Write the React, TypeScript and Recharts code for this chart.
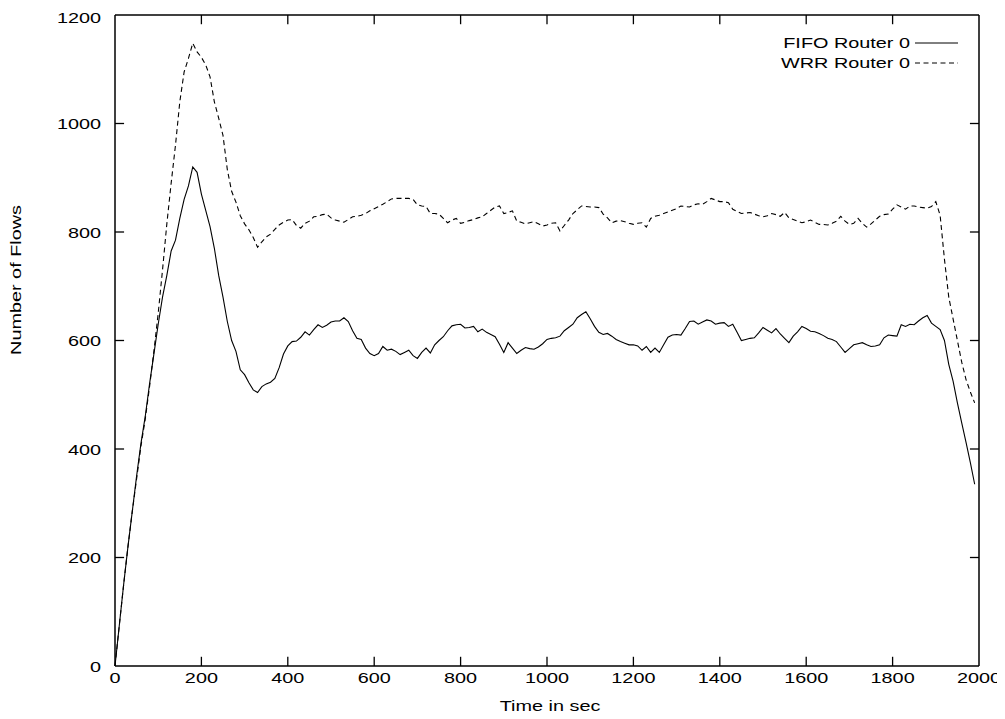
import React from 'react';
import { LineChart, Line, XAxis, YAxis, Legend, ReferenceLine } from 'recharts';

// time axis, one sample every 10 s
const TIMES = Array.from({ length: 200 }, (_, i) => i * 10);

const FIFO = [
  0, 75, 150, 220, 285, 350, 410, 460, 520, 575,
  630, 680, 720, 765, 785, 825, 860, 885, 920, 910,
  870, 840, 810, 770, 720, 680, 635, 600, 580, 546,
  537, 522, 509, 504, 515, 520, 523, 530, 550, 575,
  590, 598, 599, 606, 616, 610, 620, 629, 624, 628,
  634, 636, 636, 642, 635, 618, 604, 602, 586, 576,
  572, 576, 589, 582, 584, 580, 574, 578, 582, 572,
  567, 578, 586, 577, 592, 600, 607, 618, 627, 629,
  630, 623, 624, 626, 616, 621, 615, 611, 607, 593,
  578, 596, 586, 576, 582, 587, 585, 584, 588, 594,
  602, 604, 605, 608, 618, 624, 630, 642, 648, 653,
  640, 626, 615, 611, 613, 608, 602, 598, 595, 592,
  592, 590, 582, 589, 578, 586, 578, 592, 606, 610,
  611, 610, 622, 635, 636, 630, 634, 638, 636, 630,
  632, 633, 626, 630, 615, 600, 602, 604, 605, 614,
  624, 619, 614, 622, 612, 604, 596, 608, 616, 626,
  622, 617, 616, 613, 609, 604, 602, 598, 588, 578,
  585, 592, 594, 596, 592, 589, 590, 592, 605, 610,
  609, 608, 629, 626, 630, 629, 636, 642, 646, 632,
  626, 620, 600, 556, 525, 485, 448, 412, 375, 335,
];

const WRR = [
  0, 75, 150, 220, 285, 345, 405, 455, 515, 580,
  650, 730, 815, 890, 960, 1040, 1095, 1120, 1148, 1132,
  1122, 1108, 1086, 1040, 1010, 978, 915, 875, 855, 830,
  815, 804, 790, 772, 782, 791, 796, 805, 813, 818,
  822, 823, 812, 807, 816, 820, 828, 829, 832, 833,
  826, 822, 820, 818, 823, 828, 829, 831, 834, 839,
  843, 847, 851, 856, 861, 862, 862, 862, 862, 860,
  850, 848, 847, 834, 834, 833, 825, 817, 822, 825,
  816, 818, 821, 823, 826, 828, 834, 840, 846, 848,
  834, 836, 839, 820, 818, 815, 817, 819, 815, 811,
  813, 816, 817, 802, 812, 822, 834, 841, 848, 847,
  846, 846, 845, 833, 826, 817, 820, 821, 819, 816,
  814, 816, 817, 809, 825, 829, 831, 834, 837, 840,
  843, 848, 847, 846, 850, 852, 851, 856, 862, 859,
  856, 856, 854, 842, 838, 834, 835, 836, 833, 830,
  828, 830, 834, 832, 829, 836, 826, 823, 820, 817,
  819, 822, 818, 814, 814, 813, 816, 820, 829, 820,
  814, 816, 825, 816, 809, 815, 822, 829, 832, 833,
  842, 850, 846, 842, 848, 848, 846, 845, 844, 847,
  856, 831, 750, 680, 640, 600, 560, 528, 505, 485,
];

const X_TICKS = [0, 200, 400, 600, 800, 1000, 1200, 1400, 1600, 1800, 2000];
const Y_TICKS = [0, 200, 400, 600, 800, 1000, 1200];
const X_MAX = 2000;
const Y_MAX = 1200;
// inward tick length, in data units (about 9 px each way)
const XTICK_LEN = 17;
const YTICK_LEN = 21;

const data = TIMES.map((t, i) => ({ t, fifo: FIFO[i], wrr: WRR[i] }));

const FONT = '"Liberation Sans", Arial, sans-serif';
const FS = 15.5;
const STRETCH = 1.28;
const TICK = 9;

const StretchText = ({ x, y, anchor, children, rotate = 0 }: any) => (
  <text
    transform={`translate(${x},${y}) rotate(${rotate}) scale(${STRETCH},1)`}
    textAnchor={anchor}
    fontFamily={FONT}
    fontSize={FS}
    fill="#000"
  >
    {children}
  </text>
);

const XTick = ({ x, y, payload }: any) => (
  <StretchText x={x} y={y + TICK + 17} anchor="middle">{payload.value}</StretchText>
);

const YTick = ({ x, y, payload }: any) => (
  <StretchText x={x - TICK - 14} y={y + 5.5} anchor="end">{payload.value}</StretchText>
);

const renderLegend = () => (
  <svg width={320} height={70}>
    <StretchText x={252} y={40} anchor="end">FIFO Router 0</StretchText>
    <line x1={257} x2={300} y1={35} y2={35} stroke="#000" strokeWidth={1} />
    <StretchText x={252} y={59.5} anchor="end">WRR Router 0</StretchText>
    <line x1={257} x2={300} y1={55} y2={55} stroke="#000" strokeWidth={1} strokeDasharray="5 3.5" />
  </svg>
);

const tickSegments = [
  ...X_TICKS.filter((t) => t > 0 && t < X_MAX).flatMap((t) => [
    [{ x: t, y: 0 }, { x: t, y: XTICK_LEN }],
    [{ x: t, y: Y_MAX }, { x: t, y: Y_MAX - XTICK_LEN }],
  ]),
  ...Y_TICKS.filter((v) => v > 0 && v < Y_MAX).flatMap((v) => [
    [{ x: 0, y: v }, { x: YTICK_LEN, y: v }],
    [{ x: X_MAX, y: v }, { x: X_MAX - YTICK_LEN, y: v }],
  ]),
];

export default function App() {
  return (
    <LineChart
      width={997}
      height={711}
      data={data}
      margin={{ top: 7, right: 26, bottom: 53, left: 107 }}
    >
      <XAxis
        xAxisId="bottom"
        dataKey="t"
        type="number"
        domain={[0, X_MAX]}
        ticks={X_TICKS}
        height={40}
        stroke="#000"
        strokeWidth={1.5}
        mirror
        tickSize={TICK}
        tickMargin={0}
        tickLine={false}
        tick={<XTick />}
        label={{
          content: () => (
            <StretchText x={542} y={703} anchor="middle">Time in sec</StretchText>
          ),
        }}
      />
      <XAxis
        xAxisId="top"
        dataKey="t"
        type="number"
        orientation="top"
        domain={[0, X_MAX]}
        ticks={X_TICKS}
        height={1}
        stroke="#000"
        strokeWidth={1.5}
        mirror
        tickLine={false}
        tick={false}
      />
      <YAxis
        yAxisId="left"
        type="number"
        domain={[0, Y_MAX]}
        ticks={Y_TICKS}
        width={60}
        stroke="#000"
        strokeWidth={1.5}
        mirror
        tickSize={TICK}
        tickMargin={0}
        tickLine={false}
        tick={<YTick />}
        label={{
          content: () => (
            <StretchText x={13} y={272} anchor="middle" rotate={-90}>Number of Flows</StretchText>
          ),
        }}
      />
      <YAxis
        yAxisId="right"
        orientation="right"
        type="number"
        domain={[0, Y_MAX]}
        ticks={Y_TICKS}
        width={1}
        stroke="#000"
        strokeWidth={1.5}
        mirror
        tickLine={false}
        tick={false}
      />
      {tickSegments.map((seg, i) => (
        <ReferenceLine
          key={i}
          xAxisId="bottom"
          yAxisId="left"
          segment={seg}
          stroke="#000"
          strokeWidth={1.3}
        />
      ))}
      <Legend
        layout="horizontal"
        verticalAlign="middle"
        align="center"
        content={renderLegend}
        wrapperStyle={{ top: 0, left: 650, width: 320, height: 70 }}
      />
      <Line
        xAxisId="bottom"
        yAxisId="left"
        dataKey="fifo"
        name="FIFO Router 0"
        stroke="#000"
        strokeWidth={1.1}
        dot={false}
        type="linear"
        isAnimationActive={false}
      />
      <Line
        xAxisId="bottom"
        yAxisId="left"
        dataKey="wrr"
        name="WRR Router 0"
        stroke="#000"
        strokeWidth={1.1}
        strokeDasharray="5 3.5"
        dot={false}
        type="linear"
        isAnimationActive={false}
      />
    </LineChart>
  );
}
